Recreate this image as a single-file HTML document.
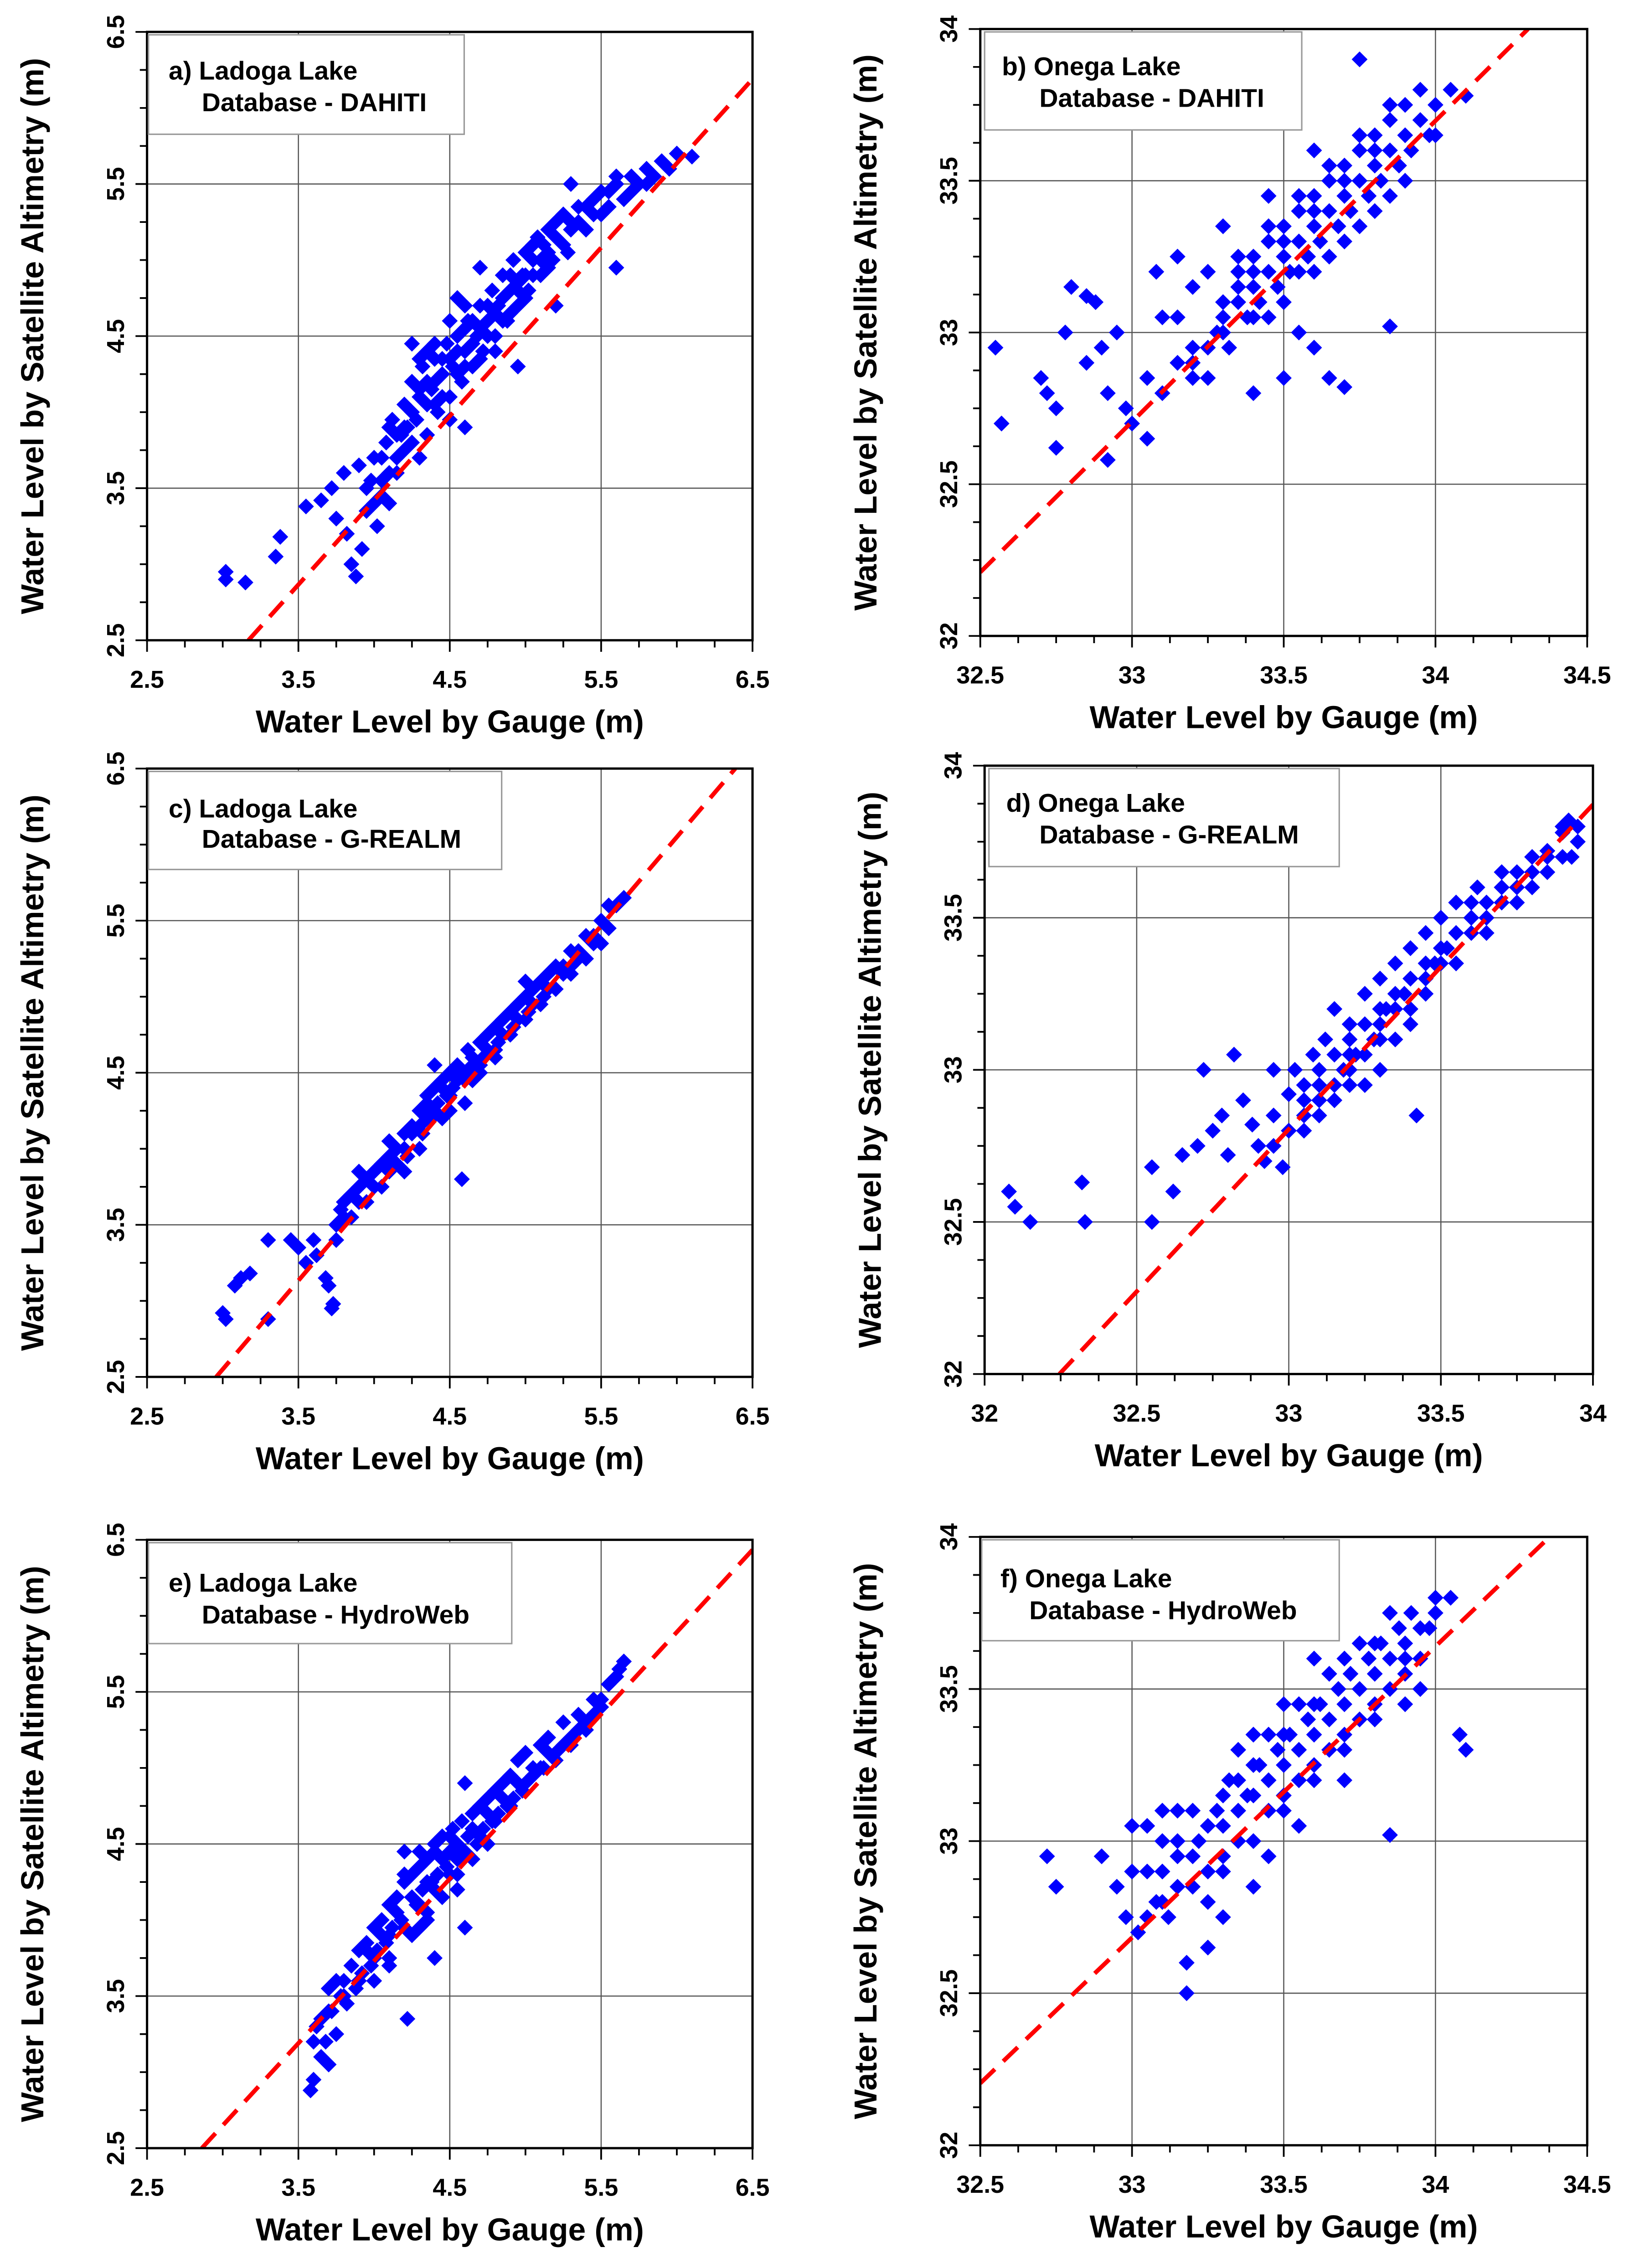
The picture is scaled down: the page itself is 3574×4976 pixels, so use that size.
<!DOCTYPE html>
<html><head><meta charset="utf-8"><style>
html,body{margin:0;padding:0;background:#fff;}
svg{display:block;}
text{font-family:"Liberation Sans",Arial,sans-serif;font-weight:bold;fill:#000;}
</style></head><body>
<svg id="fig" width="3574" height="4976" viewBox="0 0 1130 1573" xmlns="http://www.w3.org/2000/svg"></svg>
<script>
// ---- data (gauge, altimetry) ----
const ptsA = [3.02,2.95,3.02,2.9,3.15,2.88,3.35,3.05,3.38,3.18,3.55,3.38,3.65,3.42,3.72,3.5,3.75,3.3,3.8,3.6,3.82,3.2,3.85,3.0,3.88,2.92,3.92,3.1,3.95,3.35,3.98,3.55,4.0,3.7,4.02,3.25,4.05,3.45,4.08,3.8,4.1,3.6,4.12,3.95,4.15,3.7,4.18,3.85,4.2,4.05,4.22,3.9,4.25,4.2,4.28,3.95,4.3,4.1,4.32,4.3,4.35,3.85,4.38,4.15,4.4,4.35,4.42,4.0,4.45,4.25,4.48,4.45,4.5,4.1,4.52,4.3,4.55,4.5,4.58,4.2,4.6,4.4,4.62,4.6,4.65,4.3,4.68,4.5,4.7,4.7,4.72,4.4,4.75,4.6,4.78,4.8,4.8,4.5,4.82,4.7,4.85,4.9,4.88,4.6,4.9,4.8,4.92,5.0,4.95,4.7,4.98,4.9,5.0,5.05,5.02,4.8,5.05,5.0,5.08,5.15,5.1,4.9,5.12,5.1,5.15,5.2,5.18,5.0,5.2,5.15,5.25,5.3,5.28,5.05,5.3,5.25,5.35,5.35,5.4,5.2,5.45,5.4,5.5,5.3,5.55,5.45,5.6,5.5,5.65,5.4,5.7,5.55,5.75,5.5,5.8,5.6,5.85,5.55,5.9,5.65,5.95,5.6,6.0,5.7,6.1,5.68,4.35,4.4,4.5,3.95,4.6,3.9,4.7,4.95,4.4,4.45,5.3,5.5,5.6,4.95,5.2,4.7,4.95,4.3,4.3,3.7,4.1,3.4,3.9,3.65,4.55,4.75,4.25,4.45,
4.05,3.7,4.1,3.9,4.15,3.85,4.2,3.9,4.25,4.0,4.3,4.15,4.35,4.2,4.4,4.2,4.45,4.35,4.5,4.35,4.55,4.4,4.6,4.55,4.65,4.45,4.7,4.55,4.75,4.7,4.8,4.65,4.85,4.75,4.9,4.9,4.95,4.85,5.0,4.9,5.05,5.1,5.1,5.0,5.15,5.05,5.2,5.25,5.25,5.1,5.3,5.2,5.35,5.25,5.4,5.35,5.45,5.3,5.5,5.45,5.55,5.35,5.6,5.55,5.7,5.45,5.8,5.5,4.45,4.1,4.55,4.25,4.65,4.6,4.75,4.5,4.85,4.6,4.95,4.8,5.05,4.9,5.15,4.95,4.35,4.05,4.25,3.8,4.2,3.75,4.15,3.6,4.05,3.55,4.0,3.4,3.95,3.5,4.4,4.05,4.6,4.3,4.7,4.35,4.8,4.4,4.9,4.65,5.0,4.75,4.5,4.6,4.6,4.7,4.3,4.35];
const ptsB = [32.55,32.95,32.57,32.7,32.7,32.85,32.72,32.8,32.75,32.75,32.78,33.0,32.8,33.15,32.85,33.12,32.88,33.1,32.9,32.95,32.92,32.8,32.95,33.0,32.98,32.75,33.0,32.7,33.05,32.85,33.08,33.2,33.1,33.05,33.15,33.25,33.05,32.65,32.92,32.58,32.85,32.9,32.75,32.62,33.2,32.9,33.25,32.85,33.28,33.0,33.3,33.1,33.32,32.95,33.35,33.15,33.38,33.05,33.4,33.25,33.42,33.1,33.45,33.3,33.48,33.15,33.5,33.35,33.52,33.2,33.55,33.4,33.58,33.25,33.6,33.45,33.62,33.3,33.65,33.5,33.68,33.35,33.7,33.55,33.72,33.4,33.75,33.6,33.78,33.45,33.8,33.65,33.82,33.5,33.85,33.7,33.88,33.55,33.9,33.75,33.92,33.6,33.95,33.8,33.98,33.65,34.0,33.75,34.05,33.8,34.1,33.78,33.5,32.85,33.6,32.95,33.65,32.85,33.7,32.82,33.85,33.02,33.75,33.9,33.35,33.7,33.4,32.8,33.55,33.0,33.45,33.45,33.3,33.35,33.6,33.6,33.2,33.15,33.25,33.2,33.15,33.05,33.35,33.25,
33.3,33.05,33.35,33.1,33.4,33.15,33.45,33.2,33.5,33.25,33.55,33.3,33.6,33.35,33.65,33.4,33.7,33.45,33.75,33.5,33.8,33.55,33.85,33.6,33.9,33.65,33.95,33.7,33.4,33.05,33.5,33.1,33.6,33.2,33.7,33.3,33.8,33.4,33.9,33.5,33.35,33.2,33.45,33.35,33.55,33.45,33.65,33.55,33.75,33.65,33.85,33.75,33.25,32.95,33.3,33.0,33.2,32.95,33.45,33.05,33.55,33.2,33.65,33.25,33.75,33.35,33.85,33.45,34.0,33.65,33.4,33.2,33.5,33.3,33.6,33.4,33.7,33.5,33.8,33.6,33.15,32.9,33.1,32.8,33.2,32.85];
const ptsC = [3.0,2.92,3.02,2.88,3.08,3.1,3.12,3.15,3.18,3.18,3.3,2.88,3.3,3.4,3.45,3.4,3.5,3.35,3.55,3.25,3.6,3.4,3.62,3.3,3.68,3.15,3.7,3.1,3.72,2.95,3.73,2.98,3.75,3.5,3.78,3.6,3.8,3.55,3.85,3.7,3.9,3.65,3.95,3.8,4.0,3.75,4.05,3.9,4.1,3.85,4.15,4.0,4.2,4.1,4.22,3.95,4.25,4.15,4.3,4.25,4.32,4.1,4.35,4.3,4.38,4.2,4.4,4.4,4.42,4.3,4.45,4.45,4.48,4.35,4.5,4.5,4.52,4.4,4.55,4.55,4.58,3.8,4.6,4.5,4.62,4.65,4.65,4.55,4.7,4.7,4.72,4.6,4.75,4.75,4.8,4.8,4.82,4.7,4.85,4.85,4.9,4.9,4.92,4.8,4.95,4.95,5.0,5.0,5.02,4.9,5.05,5.05,5.1,5.1,5.12,5.0,5.15,5.15,5.2,5.2,5.25,5.15,5.3,5.3,5.35,5.25,5.4,5.4,5.45,5.35,5.5,5.5,5.55,5.45,5.6,5.6,5.65,5.65,5.55,5.6,4.2,3.85,4.4,4.55,4.65,4.45,4.3,4.0,4.1,4.05,3.9,3.85,5.0,5.1,5.3,5.2,
3.8,3.65,3.9,3.75,4.0,3.85,4.1,3.95,4.2,4.0,4.3,4.15,4.4,4.25,4.5,4.35,4.6,4.45,4.7,4.55,4.8,4.65,4.9,4.75,5.0,4.85,5.1,4.95,5.2,5.05,5.3,5.15,5.4,5.25,5.5,5.35,4.25,4.1,4.35,4.2,4.45,4.4,4.55,4.45,4.65,4.6,4.75,4.65,4.85,4.75,4.95,4.85,5.05,4.95,5.15,5.05,5.25,5.2,5.35,5.3,5.45,5.4,4.45,4.2,4.35,4.35,4.5,4.25,4.6,4.3,4.7,4.5,4.8,4.6,4.15,3.9,4.05,3.75,3.95,3.65,3.85,3.55,3.75,3.4];
const ptsD = [32.08,32.6,32.1,32.55,32.15,32.5,32.32,32.63,32.33,32.5,32.55,32.68,32.55,32.5,32.62,32.6,32.65,32.72,32.7,32.75,32.72,33.0,32.75,32.8,32.78,32.85,32.8,32.72,32.82,33.05,32.85,32.9,32.88,32.82,32.9,32.75,32.92,32.7,32.95,33.0,32.98,32.68,33.0,32.92,33.02,33.0,33.05,32.85,33.08,33.05,33.1,32.95,33.12,33.1,33.15,33.2,33.18,33.0,33.2,33.15,33.22,33.05,33.25,33.25,33.28,33.1,33.3,33.3,33.32,33.2,33.35,33.35,33.38,33.25,33.4,33.4,33.42,32.85,33.45,33.45,33.48,33.35,33.5,33.5,33.52,33.4,33.55,33.55,33.6,33.5,33.62,33.6,33.65,33.55,33.7,33.65,33.75,33.6,33.8,33.7,33.85,33.72,33.9,33.78,33.92,33.82,33.95,33.75,33.93,33.7,33.1,32.85,33.0,32.8,33.2,32.95,33.3,33.15,33.15,33.05,33.35,33.2,33.25,33.05,33.45,33.3,33.05,32.9,32.95,32.85,33.4,33.3,33.6,33.45,
33.0,32.8,33.05,32.95,33.1,33.0,33.15,32.95,33.2,33.05,33.25,33.15,33.3,33.1,33.35,33.25,33.4,33.2,33.45,33.35,33.5,33.4,33.55,33.45,33.6,33.5,33.65,33.5,33.7,33.6,33.75,33.65,33.8,33.65,33.85,33.7,33.9,33.7,33.1,32.9,33.2,33.0,33.3,33.2,33.4,33.3,33.5,33.35,33.6,33.55,33.7,33.55,33.8,33.6,32.95,32.75,33.05,32.8,33.15,32.9,33.25,32.95,33.35,33.1,33.45,33.25,33.55,33.35,33.65,33.45,33.75,33.55,33.85,33.65,33.95,33.8,33.9,33.8,33.2,33.1,33.3,33.0,33.4,33.15];
const ptsE = [3.58,2.88,3.6,2.95,3.62,3.3,3.65,3.1,3.68,3.2,3.7,3.05,3.72,3.4,3.75,3.25,3.78,3.5,3.8,3.6,3.82,3.45,3.85,3.7,3.88,3.55,3.9,3.8,3.92,3.65,3.95,3.85,3.98,3.7,4.0,3.95,4.02,3.8,4.05,4.0,4.08,3.85,4.1,4.1,4.12,3.95,4.15,4.15,4.18,4.0,4.2,4.25,4.22,3.35,4.25,4.3,4.28,4.1,4.3,4.45,4.32,4.2,4.35,4.4,4.38,4.25,4.4,4.5,4.42,4.3,4.45,4.55,4.48,4.35,4.5,4.45,4.52,4.6,4.55,4.4,4.58,4.65,4.6,3.95,4.62,4.55,4.65,4.7,4.68,4.5,4.7,4.75,4.72,4.6,4.75,4.8,4.78,4.65,4.8,4.85,4.82,4.7,4.85,4.9,4.88,4.75,4.9,4.95,4.92,4.8,4.95,5.05,4.98,4.85,5.0,5.1,5.05,4.95,5.1,5.15,5.12,5.0,5.15,5.2,5.2,5.1,5.25,5.3,5.3,5.15,5.35,5.35,5.4,5.25,5.45,5.45,5.5,5.4,5.55,5.55,5.6,5.6,5.65,5.7,5.62,5.65,4.3,3.95,4.4,3.75,4.2,4.45,4.5,4.3,4.35,4.05,4.55,4.2,4.0,3.6,3.7,3.55,4.6,4.9,4.1,3.7,
3.7,3.4,3.8,3.5,3.9,3.6,4.0,3.75,4.1,3.9,4.2,3.95,4.3,4.1,4.4,4.2,4.5,4.3,4.6,4.45,4.7,4.55,4.8,4.65,4.9,4.75,5.0,4.9,5.1,5.0,5.2,5.05,5.3,5.2,5.4,5.3,5.5,5.45,3.75,3.6,3.85,3.7,3.95,3.8,4.05,3.9,4.15,4.05,4.25,4.15,4.35,4.25,4.45,4.4,4.55,4.5,4.65,4.6,4.75,4.7,4.85,4.8,4.95,4.9,5.05,5.0,5.15,5.1,5.25,5.15,5.35,5.25,5.45,5.35,4.3,4.35,4.4,4.45,4.5,4.55,4.2,4.3,4.1,3.75,4.25,3.9,4.35,4.0,4.45,4.15,4.55,4.3,4.65,4.4,4.75,4.5,3.65,3.35,3.6,3.2];
const ptsF = [32.72,32.95,32.75,32.85,32.9,32.95,32.95,32.85,32.98,32.75,33.0,33.05,33.02,32.7,33.05,32.9,33.08,32.8,33.1,33.0,33.12,32.75,33.15,33.1,33.18,32.6,33.2,32.85,33.22,33.0,33.25,32.8,33.28,33.1,33.3,32.9,33.32,33.2,33.35,33.0,33.38,33.15,33.4,32.85,33.42,33.25,33.45,33.1,33.48,33.3,33.5,33.15,33.52,33.35,33.55,33.2,33.58,33.4,33.6,33.25,33.62,33.45,33.65,33.3,33.68,33.5,33.7,33.35,33.72,33.55,33.75,33.4,33.78,33.6,33.8,33.45,33.82,33.65,33.85,33.5,33.88,33.7,33.9,33.55,33.92,33.75,33.95,33.6,33.98,33.7,34.0,33.8,34.05,33.8,34.08,33.35,34.1,33.3,33.85,33.02,33.18,32.5,33.25,32.65,33.3,32.75,33.4,33.35,33.5,33.45,33.45,32.95,33.15,32.95,33.05,33.05,33.6,33.6,33.7,33.2,33.55,33.05,33.1,32.9,33.35,33.3,33.95,33.5,
33.3,33.05,33.35,33.1,33.4,33.15,33.45,33.2,33.5,33.25,33.55,33.3,33.6,33.35,33.65,33.4,33.7,33.45,33.75,33.5,33.8,33.55,33.85,33.6,33.9,33.65,33.95,33.7,33.4,33.0,33.5,33.1,33.6,33.2,33.7,33.3,33.8,33.4,33.9,33.45,33.35,33.2,33.45,33.35,33.55,33.45,33.65,33.55,33.75,33.65,33.85,33.75,33.2,32.95,33.25,32.9,33.15,32.85,33.3,32.95,33.1,32.8,33.05,32.75,33.2,33.1,33.25,33.05,33.15,33.0,33.0,32.9,33.1,33.1,33.3,33.15,33.4,33.25,33.5,33.35,33.6,33.45,33.7,33.6,33.8,33.65,33.9,33.6,34.0,33.75];
// fit lines [x0,y0,x1,y1]
const fitA = [3.17,2.5,6.5,6.19];
const fitB = [32.5,32.21,34.305,34.0];
const fitC = [2.957,2.5,6.386,6.5];
const fitD = [32.246,32.0,34.0,33.872];
const fitE = [2.862,2.5,6.5,6.434];
const fitF = [32.5,32.204,34.376,34.0];
const ticksLadogaX = ["2.5","3.5","4.5","5.5","6.5"];
const ticksLadogaY = ["2.5","3.5","4.5","5.5","6.5"];
const ticksOnegaBX = ["32.5","33","33.5","34","34.5"];
const ticksOnegaDX = ["32","32.5","33","33.5","34"];
const ticksOnegaY = ["32","32.5","33","33.5","34"];

const NS="http://www.w3.org/2000/svg";
const svg=document.getElementById('fig');
function mk(tag,attrs,parent){const e=document.createElementNS(NS,tag);for(const k in attrs)e.setAttribute(k,attrs[k]);(parent||svg).appendChild(e);return e;}

const panels=[
 {id:'a',x0:102,y0:22,w:420,h:422,xd:[2.5,6.5],yd:[2.5,6.5],xt:ticksLadogaX,yt:ticksLadogaY,pts:ptsA,fit:fitA,box:[103,24,219,69],t1:"a) Ladoga Lake",t2:"Database - DAHITI",t1p:[117,55],t2p:[140,77]},
 {id:'b',x0:680,y0:20,w:421,h:421,xd:[32.5,34.5],yd:[32,34],xt:ticksOnegaBX,yt:ticksOnegaY,pts:ptsB,fit:fitB,box:[683,22,220,68],t1:"b) Onega Lake",t2:"Database - DAHITI",t1p:[695,52],t2p:[721,74]},
 {id:'c',x0:102,y0:533,w:420,h:422,xd:[2.5,6.5],yd:[2.5,6.5],xt:ticksLadogaX,yt:ticksLadogaY,pts:ptsC,fit:fitC,box:[103,535,245,68],t1:"c) Ladoga Lake",t2:"Database - G-REALM",t1p:[117,567],t2p:[140,588]},
 {id:'d',x0:683,y0:531,w:422,h:422,xd:[32,34],yd:[32,34],xt:ticksOnegaDX,yt:ticksOnegaY,pts:ptsD,fit:fitD,box:[686,533,243,68],t1:"d) Onega Lake",t2:"Database - G-REALM",t1p:[698,563],t2p:[721,585]},
 {id:'e',x0:102,y0:1068,w:420,h:422,xd:[2.5,6.5],yd:[2.5,6.5],xt:ticksLadogaX,yt:ticksLadogaY,pts:ptsE,fit:fitE,box:[103,1070,252,70],t1:"e) Ladoga Lake",t2:"Database - HydroWeb",t1p:[117,1104],t2p:[140,1126]},
 {id:'f',x0:680,y0:1066,w:421,h:422,xd:[32.5,34.5],yd:[32,34],xt:ticksOnegaBX,yt:ticksOnegaY,pts:ptsF,fit:fitF,box:[681,1068,248,70],t1:"f) Onega Lake",t2:"Database - HydroWeb",t1p:[694,1101],t2p:[714,1123]}
];

panels.forEach(p=>{
 const g=mk('g',{});
 
 
 const sx=v=>p.x0+(v-p.xd[0])/(p.xd[1]-p.xd[0])*p.w;
 const sy=v=>p.y0+p.h-(v-p.yd[0])/(p.yd[1]-p.yd[0])*p.h;
 const cid='clip'+p.id;
 const cp=mk('clipPath',{id:cid},g);mk('rect',{x:p.x0,y:p.y0,width:p.w,height:p.h},cp);
 const nx=p.xt.length, ny=p.yt.length;
 for(let i=1;i<nx-1;i++){const v=+p.xt[i];const l=mk('line',{x1:sx(v),x2:sx(v),y1:p.y0,y2:p.y0+p.h,stroke:'#555','stroke-width':0.8},g);}
 for(let i=1;i<ny-1;i++){const v=+p.yt[i];const l=mk('line',{y1:sy(v),y2:sy(v),x1:p.x0,x2:p.x0+p.w,stroke:'#555','stroke-width':0.8},g);}
 const xstep=(p.xd[1]-p.xd[0])/(nx-1)/4, ystep=(p.yd[1]-p.yd[0])/(ny-1)/4;
 for(let k=0;k<=(nx-1)*4;k++){const v=p.xd[0]+k*xstep;const L=k%4==0?8:5;mk('line',{x1:sx(v),x2:sx(v),y1:p.y0+p.h,y2:p.y0+p.h+L,stroke:'#000','stroke-width':1.2},g);}
 for(let k=0;k<=(ny-1)*4;k++){const v=p.yd[0]+k*ystep;const L=k%4==0?8:5;mk('line',{y1:sy(v),y2:sy(v),x1:p.x0,x2:p.x0-L,stroke:'#000','stroke-width':1.2},g);}
 p.xt.forEach(t=>{const e=mk('text',{x:sx(+t),y:p.y0+p.h+33,'font-size':17,'text-anchor':'middle'},g);e.textContent=t;});
 p.yt.forEach(t=>{const X=p.x0-16,Y=sy(+t);const e=mk('text',{x:X,y:Y,'font-size':17,'text-anchor':'middle',transform:`rotate(-90 ${X} ${Y})`},g);e.textContent=t;});
 const pg=mk('g',{'clip-path':`url(#${cid})`},g);
 
 
 for(let i=0;i<p.pts.length;i+=2){const X=sx(p.pts[i]),Y=sy(p.pts[i+1]);const r=5.5;
  const d=mk('polygon',{points:`${X},${Y-r} ${X+r},${Y} ${X},${Y+r} ${X-r},${Y}`,fill:'#0000ff'},pg);
  }
 const fl=mk('line',{x1:sx(p.fit[0]),y1:sy(p.fit[1]),x2:sx(p.fit[2]),y2:sy(p.fit[3]),stroke:'#ff0000','stroke-width':3,'stroke-dasharray':'14 8','clip-path':`url(#${cid})`},g);
 
 const fr=mk('rect',{x:p.x0,y:p.y0,width:p.w,height:p.h,fill:'none',stroke:'#000','stroke-width':1.6},g);
 
 const lb=mk('rect',{x:p.box[0],y:p.box[1],width:p.box[2],height:p.box[3],fill:'#fff',stroke:'#999','stroke-width':1},g);
 
 const t1=mk('text',{x:p.t1p[0],y:p.t1p[1],'font-size':18},g);t1.textContent=p.t1;
 const t2=mk('text',{x:p.t2p[0],y:p.t2p[1],'font-size':18},g);t2.textContent=p.t2;
 const xt=mk('text',{x:p.x0+p.w/2,y:p.y0+p.h+64,'font-size':22,'text-anchor':'middle'},g);xt.textContent="Water Level by Gauge (m)";
 const YX=p.x0-72,YY=p.y0+p.h/2;
 const yt=mk('text',{x:YX,y:YY,'font-size':22,'text-anchor':'middle',transform:`rotate(-90 ${YX} ${YY})`},g);yt.textContent="Water Level by Satellite Altimetry (m)";
});
</script>
</body></html>
